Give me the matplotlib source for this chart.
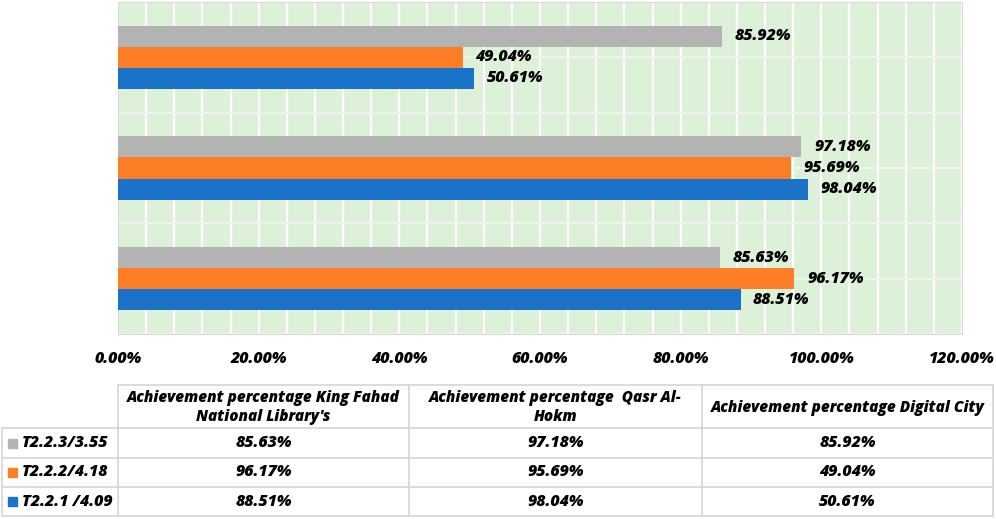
import numpy as np
import matplotlib
matplotlib.use("Agg")
import matplotlib.pyplot as plt

plt.rcParams["font.family"] = ["Open Sans", "DejaVu Sans"]

# categories from bottom to top of the bar chart
categories = ["Achievement percentage King Fahad\nNational Library's",
              "Achievement percentage  Qasr Al-\nHokm",
              "Achievement percentage Digital City"]
series_names = ["T2.2.3/3.55", "T2.2.2/4.18", "T2.2.1 /4.09"]
t223 = [85.63, 97.18, 85.92]
t222 = [96.17, 95.69, 49.04]
t221 = [88.51, 98.04, 50.61]
colors = ["#B3B3B3", "#FD7E26", "#1A73C9"]
xticks = [0, 20, 40, 60, 80, 100, 120]

W, H = 996, 519
fig = plt.figure(figsize=(W / 100, H / 100), dpi=100)
ax = fig.add_axes([118 / W, 1 - 334 / H, (962 - 118) / W, (334 - 2) / H])
ax.set_facecolor("#DDF0D8")

y = np.arange(len(categories))
bh = 0.19
series = [t223, t222, t221]
offsets = [bh, 0, -bh]
lab_font = dict(fontsize=11.5, fontweight=800, fontstyle="italic")
for vals, off, c in zip(series, offsets, colors):
    ax.barh(y + off, vals, height=bh, color=c, zorder=3)
    for yi, v in zip(y, vals):
        ax.annotate(f"{v:.2f}%", (v, yi + off), xytext=(9, 0),
                    textcoords="offset points", va="center", ha="left",
                    **lab_font)

ax.set_xlim(0, 120)
ax.set_ylim(-0.5, 2.5)
ax.set_xticks(xticks)
ax.set_xticklabels([f"{t:.2f}%" for t in xticks], **lab_font)
ax.set_xticks(np.arange(0, 121, 4), minor=True)
ax.set_yticks(np.arange(-0.5, 2.6, 0.5))
ax.set_yticklabels([])
ax.tick_params(axis="both", which="both", length=0)
ax.tick_params(axis="x", pad=12)
ax.grid(axis="x", which="both", color="white", lw=1.6, zorder=1)
ax.grid(axis="y", which="major", color="#EEF3EC", lw=1.5, zorder=1)
for s in ax.spines.values():
    s.set_color("#D9D9D9")

# data table below the chart, drawn in pixel coordinates
tax = fig.add_axes([0, 0, 1, 1])
tax.set_xlim(0, W)
tax.set_ylim(H, 0)
tax.axis("off")
cols = [2, 118, 409, 702, 993]
rows = [385, 428, 458, 487, 516]
lc = "#D6D6D6"
tax.plot([cols[1], cols[-1]], [rows[0], rows[0]], color=lc, lw=1.2)
for r in rows[1:]:
    tax.plot([cols[0], cols[-1]], [r, r], color=lc, lw=1.2)
tax.plot([cols[0], cols[0]], [rows[1], rows[-1]], color=lc, lw=1.2)
for cx in cols[1:]:
    tax.plot([cx, cx], [rows[0], rows[-1]], color=lc, lw=1.2)

hdr_font = dict(fontsize=11, fontweight=800, fontstyle="italic")
for j, cat in enumerate(categories):
    tax.text((cols[j + 1] + cols[j + 2]) / 2, (rows[0] + rows[1]) / 2 + 1, cat,
             ha="center", va="center", linespacing=1.3, **hdr_font)

for i, (name, vals, c) in enumerate(zip(series_names, series, colors)):
    yc = (rows[i + 1] + rows[i + 2]) / 2
    tax.add_patch(plt.Rectangle((8, yc - 4.5), 9, 9, color=c))
    tax.text(22, yc, name, ha="left", va="center", **lab_font)
    for j, v in enumerate(vals):
        tax.text((cols[j + 1] + cols[j + 2]) / 2, yc, f"{v:.2f}%",
                 ha="center", va="center", **lab_font)

fig.savefig("out.png", dpi=100)
